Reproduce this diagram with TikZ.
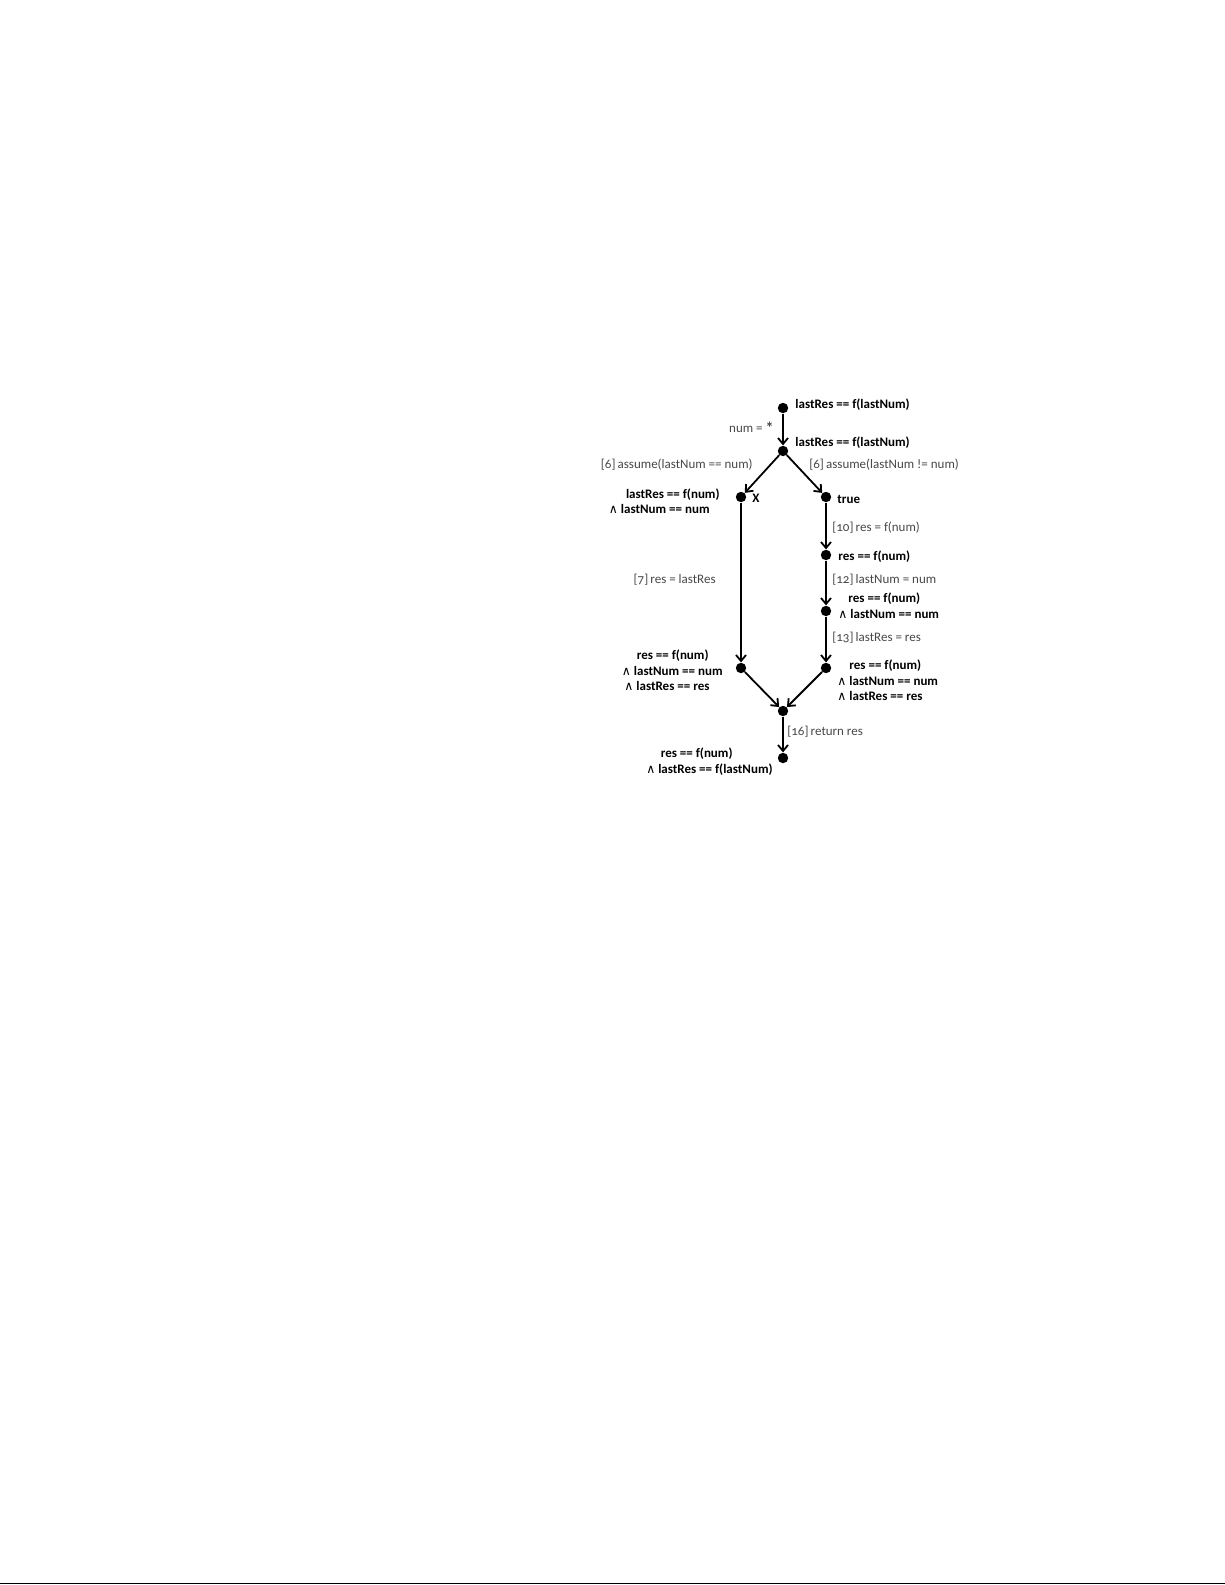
\documentclass[tikz,border=0pt]{standalone}
\usepackage{fontspec}
\setmainfont{Carlito}
\newfontfamily\edgefont[Numbers=OldStyle]{Carlito}
\newfontfamily\andfont{DejaVu Sans}
\newcommand\myand{{\andfont\mdseries\fontsize{6.2}{7.5}\selectfont ∧}}
\usetikzlibrary{arrows.meta}
\begin{document}
\begin{tikzpicture}[x=0.5pt,y=-0.5pt,
  dot/.style={circle,fill=black,inner sep=0pt,minimum size=5.2pt},
  cond/.style={font=\fontsize{6.5}{7.5}\selectfont\bfseries,inner sep=0pt,text=black},
  act/.style={font=\edgefont\fontsize{6.5}{7.5}\selectfont,inner sep=0pt,text=black!72},
  flow/.style={line width=0.9pt,-{Straight Barb[length=3pt,width=5pt]}}]
\useasboundingbox (0,0) rectangle (1225,1585);
% dots
\node[dot] (n0) at (783,408) {};
\node[dot] (n1) at (783,451) {};
\node[dot] (nL) at (741,497) {};
\node[dot] (nR) at (826,497) {};
\node[dot] (nR2) at (826,555) {};
\node[dot] (nR3) at (826,611) {};
\node[dot] (nL4) at (741,668) {};
\node[dot] (nR4) at (826,668) {};
\node[dot] (nM) at (783,711) {};
\node[dot] (nE) at (783,758) {};
% edges
\draw[flow] (n0) -- (n1);
\draw[flow] (n1) -- (nL);
\draw[flow] (n1) -- (nR);
\draw[flow] (nL) -- (nL4);
\draw[flow] (nR) -- (nR2);
\draw[flow] (nR2) -- (nR3);
\draw[flow] (nR3) -- (nR4);
\draw[flow] (nL4) -- (nM);
\draw[flow] (nR4) -- (nM);
\draw[flow] (nM) -- (nE);
% conditions
\node[cond,anchor=west] (c0) at (795,405) {lastRes == f(lastNum)};
\node[cond,anchor=west] (c1) at (795,443) {lastRes == f(lastNum)};
\node[cond,anchor=east] (cL1) at (720,495) {lastRes == f(num)};
\node[cond,anchor=east] (cL2) at (710,509) {\myand{} lastNum == num};
\node[cond,anchor=west] (cX) at (752,498) {X};
\node[cond,anchor=west] (cT) at (837,499) {true};
\node[cond,anchor=west] (cR2) at (838,557) {res == f(num)};
\node[cond,anchor=west] (cR3a) at (848,599) {res == f(num)};
\node[cond,anchor=west] (cR3b) at (838,614) {\myand{} lastNum == num};
\node[cond,anchor=east] (cL4a) at (709,656) {res == f(num)};
\node[cond,anchor=east] (cL4b) at (723,671) {\myand{} lastNum == num};
\node[cond,anchor=west] (cL4c) at (624,686) {\myand{} lastRes == res};
\node[cond,anchor=west] (cR4a) at (849,666) {res == f(num)};
\node[cond,anchor=west] (cR4b) at (837,681) {\myand{} lastNum == num};
\node[cond,anchor=west] (cR4c) at (837,696) {\myand{} lastRes == res};
\node[cond,anchor=east] (cEa) at (733,754) {res == f(num)};
\node[cond,anchor=east] (cEb) at (773,770) {\myand{} lastRes == f(lastNum)};
% actions
\node[act,anchor=east] (a0) at (774,428) {num = {\fontsize{8}{8}\selectfont\bfseries\raisebox{-0.4pt}{*}}};
\node[act,anchor=east] (a1) at (753,465) {[6]\,assume(lastNum == num)};
\node[act,anchor=west] (a2) at (809,465) {[6]\,assume(lastNum != num)};
\node[act,anchor=west] (a3) at (832,528) {[10]\,res = f(num)};
\node[act,anchor=east] (a4) at (716,580) {[7]\,res = lastRes};
\node[act,anchor=west] (a5) at (832,580) {[12]\,lastNum = num};
\node[act,anchor=west] (a6) at (832,638) {[13]\,lastRes = res};
\node[act,anchor=west] (a7) at (787,732) {[16]\,return res};
% bottom rule
\coordinate (r0) at (0,1583.5);
\coordinate (r1) at (1225,1583.5);
\draw[line width=0.8pt] (r0) -- (r1);
\end{tikzpicture}
\end{document}
